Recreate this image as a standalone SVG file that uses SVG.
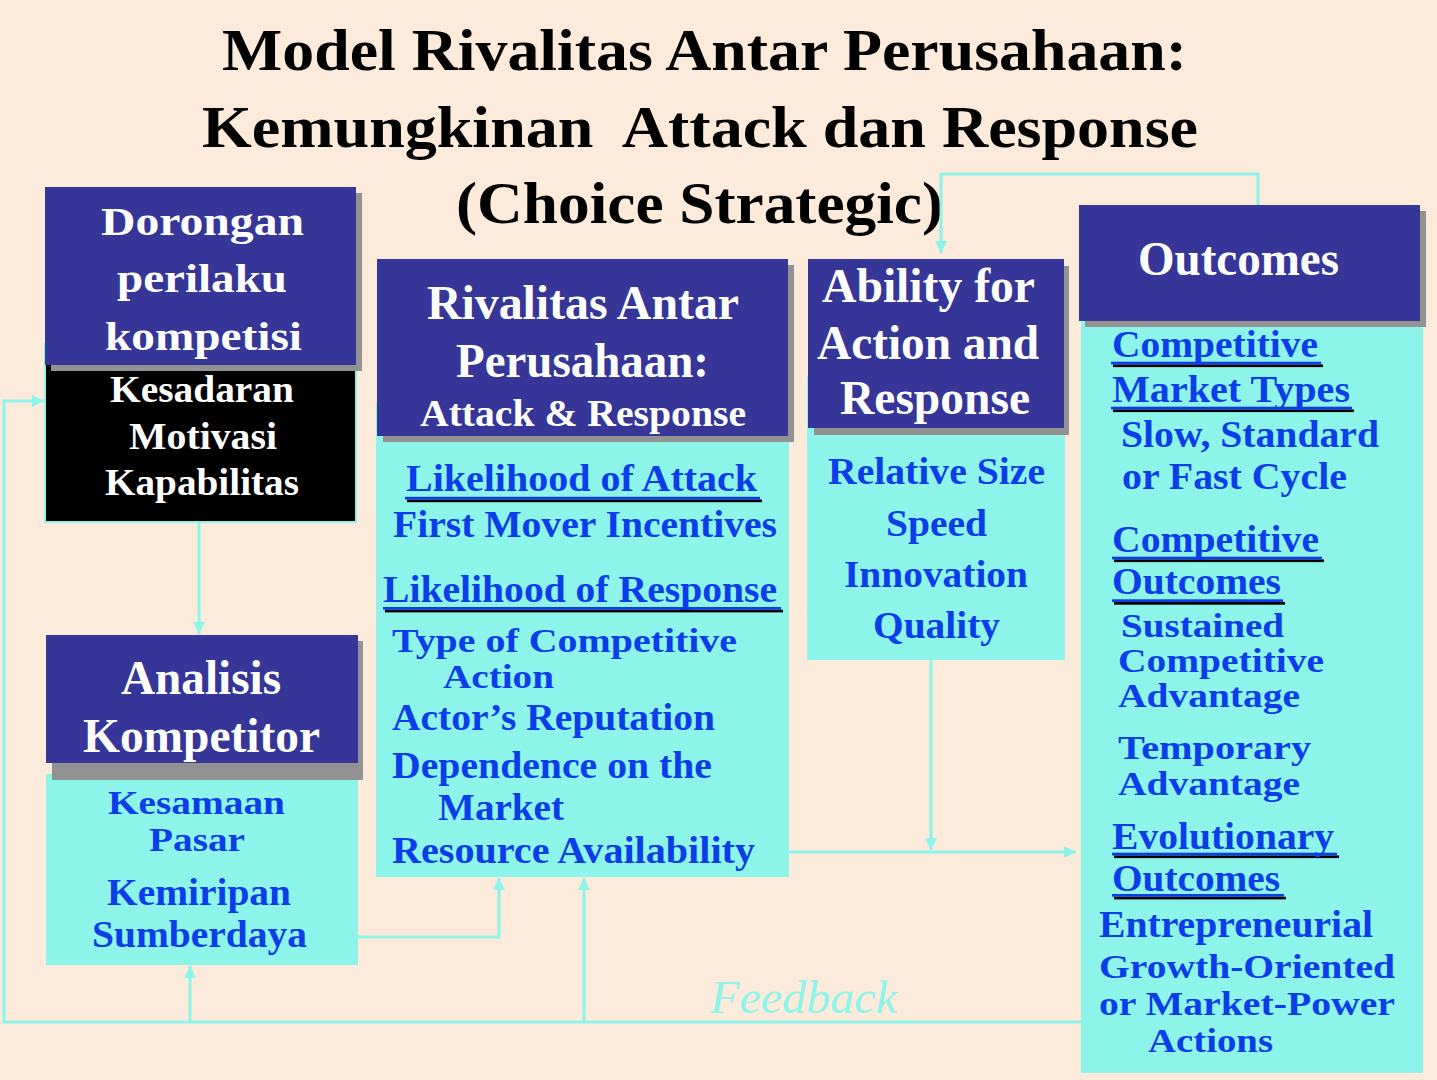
<svg xmlns="http://www.w3.org/2000/svg" width="1437" height="1080" viewBox="0 0 1437 1080">
<defs>
<style>
text{font-family:"Liberation Serif","Times New Roman",serif;font-weight:bold}
.title{fill:#000;font-size:60px}
.hd{fill:#fff;font-size:48px}
.hds{fill:#fff;font-size:40px}
.wb{fill:#fff;font-size:37px}
.bl{fill:#0b3ee8;font-size:38px}
.t{font-size:34px}
.hdr{fill:#363698}
.shd{fill:#929292}
.cy{fill:#8df4ea}
.ulb{fill:#0b3ee8}
.ulk{fill:#000}
.con{fill:none;stroke:#8df4ea;stroke-width:3}
.fb{fill:#8df4ea;font-size:46px;font-style:italic;font-weight:normal}
</style>
<marker id="ah" viewBox="0 0 12 12" refX="12" refY="6" markerWidth="12" markerHeight="12" markerUnits="userSpaceOnUse" orient="auto">
<path d="M0,0 L12,6 L0,12 z" fill="#8df4ea"/>
</marker>
</defs>
<rect x="0" y="0" width="1437" height="1080" fill="#fceadb"/>

<g id="title">
<text class="title" x="222" y="70" textLength="965" lengthAdjust="spacingAndGlyphs">Model Rivalitas Antar Perusahaan:</text>
<text class="title" x="202" y="147" textLength="996" lengthAdjust="spacingAndGlyphs" xml:space="preserve">Kemungkinan  Attack dan Response</text>
<text class="title" x="456" y="223" textLength="487" lengthAdjust="spacingAndGlyphs">(Choice Strategic)</text>
</g>

<g id="dorongan">
<rect x="45" y="344" width="311" height="178" fill="#000" stroke="#8df4ea" stroke-width="2"/>
<rect class="shd" x="51" y="193" width="311" height="178"/>
<rect class="hdr" x="45" y="187" width="311" height="178"/>
<text class="hds" x="101" y="235" textLength="203" lengthAdjust="spacingAndGlyphs">Dorongan</text>
<text class="hds" x="117" y="292" textLength="170" lengthAdjust="spacingAndGlyphs">perilaku</text>
<text class="hds" x="105" y="350" textLength="197" lengthAdjust="spacingAndGlyphs">kompetisi</text>
<text class="wb" x="110" y="402" textLength="184" lengthAdjust="spacingAndGlyphs">Kesadaran</text>
<text class="wb" x="129" y="449" textLength="148" lengthAdjust="spacingAndGlyphs">Motivasi</text>
<text class="wb" x="105" y="495" textLength="194" lengthAdjust="spacingAndGlyphs">Kapabilitas</text>
</g>

<g id="analisis">
<rect class="cy" x="46" y="774" width="312" height="191"/>
<rect class="shd" x="52" y="641" width="311" height="139"/>
<rect class="hdr" x="46" y="635" width="312" height="128"/>
<text class="hd" x="121" y="694" textLength="160" lengthAdjust="spacingAndGlyphs">Analisis</text>
<text class="hd" x="83" y="752" textLength="237" lengthAdjust="spacingAndGlyphs">Kompetitor</text>
<text class="bl t" x="108" y="814" textLength="177" lengthAdjust="spacingAndGlyphs">Kesamaan</text>
<text class="bl t" x="149" y="851" textLength="96" lengthAdjust="spacingAndGlyphs">Pasar</text>
<text class="bl" x="107" y="905" textLength="184" lengthAdjust="spacingAndGlyphs">Kemiripan</text>
<text class="bl" x="92" y="947" textLength="215" lengthAdjust="spacingAndGlyphs">Sumberdaya</text>
</g>

<g id="rivalitas">
<rect class="cy" x="376" y="403" width="413" height="474"/>
<rect class="shd" x="383" y="265" width="411" height="177"/>
<rect class="hdr" x="377" y="259" width="411" height="177"/>
<text class="hd" x="427" y="319" textLength="312" lengthAdjust="spacingAndGlyphs">Rivalitas Antar</text>
<text class="hd" x="456" y="377" textLength="253" lengthAdjust="spacingAndGlyphs">Perusahaan:</text>
<text class="wb" x="420" y="426" textLength="326" lengthAdjust="spacingAndGlyphs" style="font-size:38px">Attack &amp; Response</text>
<rect class="ulk" x="407" y="499.5" width="355" height="2.7"/>
<rect class="ulb" x="405" y="496.8" width="355" height="2.7"/>
<text class="bl" x="406" y="491" textLength="351" lengthAdjust="spacingAndGlyphs">Likelihood of Attack</text>
<text class="bl" x="393" y="537" textLength="384" lengthAdjust="spacingAndGlyphs">First Mover Incentives</text>
<rect class="ulk" x="385" y="609.7" width="398" height="2.7"/>
<rect class="ulb" x="383" y="607" width="398" height="2.7"/>
<text class="bl" x="383" y="602" textLength="394" lengthAdjust="spacingAndGlyphs">Likelihood of Response</text>
<text class="bl t" x="392" y="652" textLength="345" lengthAdjust="spacingAndGlyphs">Type of Competitive</text>
<text class="bl t" x="443" y="688" textLength="111" lengthAdjust="spacingAndGlyphs">Action</text>
<text class="bl" x="392" y="730" textLength="323" lengthAdjust="spacingAndGlyphs">Actor’s Reputation</text>
<text class="bl" x="392" y="778" textLength="320" lengthAdjust="spacingAndGlyphs">Dependence on the</text>
<text class="bl" x="438" y="820" textLength="126" lengthAdjust="spacingAndGlyphs">Market</text>
<text class="bl" x="392" y="863" textLength="363" lengthAdjust="spacingAndGlyphs">Resource Availability</text>
</g>

<g id="ability">
<rect class="cy" x="807" y="376" width="258" height="284"/>
<rect class="shd" x="814" y="266" width="255" height="169"/>
<rect class="hdr" x="808" y="259" width="256" height="169"/>
<text class="hd" x="822" y="302" textLength="213" lengthAdjust="spacingAndGlyphs">Ability for</text>
<text class="hd" x="817" y="359" textLength="222" lengthAdjust="spacingAndGlyphs">Action and</text>
<text class="hd" x="840" y="414" textLength="190" lengthAdjust="spacingAndGlyphs">Response</text>
<text class="bl" x="828" y="484" textLength="217" lengthAdjust="spacingAndGlyphs">Relative Size</text>
<text class="bl" x="886" y="536" textLength="101" lengthAdjust="spacingAndGlyphs">Speed</text>
<text class="bl" x="844" y="587" textLength="184" lengthAdjust="spacingAndGlyphs">Innovation</text>
<text class="bl" x="873" y="638" textLength="127" lengthAdjust="spacingAndGlyphs">Quality</text>
</g>

<g id="outcomes">
<rect class="cy" x="1081" y="315" width="342" height="758"/>
<rect class="shd" x="1085" y="211" width="341" height="116"/>
<rect class="hdr" x="1079" y="205" width="341" height="116"/>
<text class="hd" x="1138" y="275" textLength="201" lengthAdjust="spacingAndGlyphs">Outcomes</text>
<rect class="ulk" x="1113" y="364.4" width="210" height="2.7"/>
<rect class="ulb" x="1111" y="361.7" width="210" height="2.7"/>
<text class="bl" x="1112" y="357" textLength="206" lengthAdjust="spacingAndGlyphs">Competitive</text>
<rect class="ulk" x="1113" y="409.4" width="241" height="2.7"/>
<rect class="ulb" x="1111" y="406.7" width="241" height="2.7"/>
<text class="bl" x="1112" y="402" textLength="238" lengthAdjust="spacingAndGlyphs">Market Types</text>
<text class="bl" x="1121" y="447" textLength="258" lengthAdjust="spacingAndGlyphs">Slow, Standard</text>
<text class="bl" x="1122" y="489" textLength="225" lengthAdjust="spacingAndGlyphs">or Fast Cycle</text>
<rect class="ulk" x="1114" y="559.4" width="210" height="2.7"/>
<rect class="ulb" x="1112" y="556.7" width="210" height="2.7"/>
<text class="bl" x="1112" y="552" textLength="207" lengthAdjust="spacingAndGlyphs">Competitive</text>
<rect class="ulk" x="1114" y="602" width="171" height="2.7"/>
<rect class="ulb" x="1112" y="599.3" width="171" height="2.7"/>
<text class="bl" x="1112" y="594" textLength="169" lengthAdjust="spacingAndGlyphs">Outcomes</text>
<text class="bl t" x="1121" y="637" textLength="163" lengthAdjust="spacingAndGlyphs">Sustained</text>
<text class="bl t" x="1118" y="672" textLength="206" lengthAdjust="spacingAndGlyphs">Competitive</text>
<text class="bl t" x="1118" y="707" textLength="182" lengthAdjust="spacingAndGlyphs">Advantage</text>
<text class="bl t" x="1118" y="759" textLength="193" lengthAdjust="spacingAndGlyphs">Temporary</text>
<text class="bl t" x="1118" y="795" textLength="182" lengthAdjust="spacingAndGlyphs">Advantage</text>
<rect class="ulk" x="1114" y="855.4" width="225" height="2.7"/>
<rect class="ulb" x="1112" y="852.7" width="225" height="2.7"/>
<text class="bl" x="1112" y="849" textLength="222" lengthAdjust="spacingAndGlyphs">Evolutionary</text>
<rect class="ulk" x="1114" y="896.7" width="172" height="2.7"/>
<rect class="ulb" x="1112" y="894" width="172" height="2.7"/>
<text class="bl" x="1112" y="891" textLength="168" lengthAdjust="spacingAndGlyphs">Outcomes</text>
<text class="bl" x="1099" y="937" textLength="274" lengthAdjust="spacingAndGlyphs">Entrepreneurial</text>
<text class="bl t" x="1099" y="978" textLength="296" lengthAdjust="spacingAndGlyphs">Growth-Oriented</text>
<text class="bl t" x="1099" y="1015" textLength="296" lengthAdjust="spacingAndGlyphs">or Market-Power</text>
<text class="bl t" x="1148" y="1052" textLength="125" lengthAdjust="spacingAndGlyphs">Actions</text>
</g>

<g id="connectors">
<path class="con" d="M1258,205 V174 H941 V253" marker-end="url(#ah)"/>
<path class="con" d="M199,523 V634" marker-end="url(#ah)"/>
<path class="con" d="M1081,1022 H4 V401 H44" marker-end="url(#ah)"/>
<path class="con" d="M190,1022 V966" marker-end="url(#ah)"/>
<path class="con" d="M584,1022 V878" marker-end="url(#ah)"/>
<path class="con" d="M358,937 H499 V878" marker-end="url(#ah)"/>
<path class="con" d="M789,852 H1076" marker-end="url(#ah)"/>
<path class="con" d="M931,660 V850" marker-end="url(#ah)"/>
<text class="fb" x="710" y="1013" textLength="187" lengthAdjust="spacingAndGlyphs">Feedback</text>
</g>
</svg>
